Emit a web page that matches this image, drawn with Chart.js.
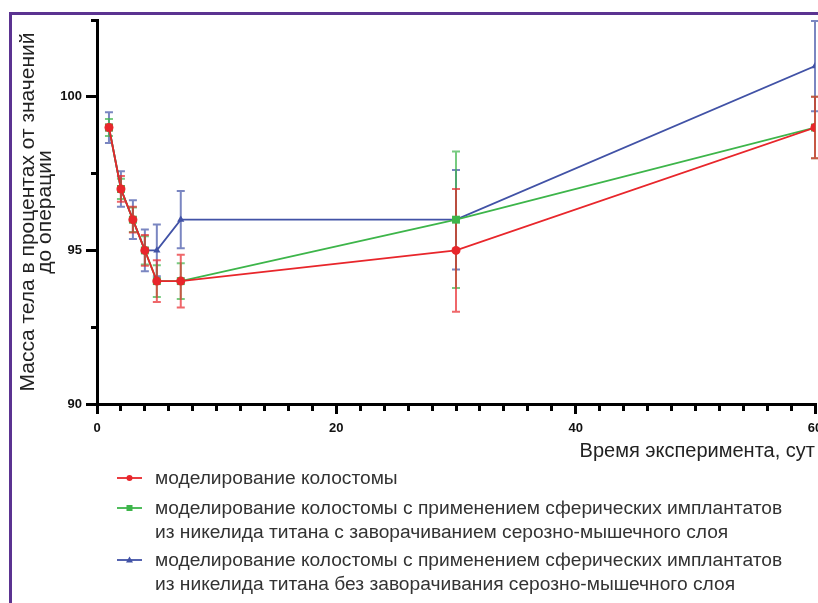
<!DOCTYPE html>
<html lang="ru">
<head>
<meta charset="utf-8">
<title>Масса тела в процентах от значений до операции</title>
<script src="https://cdn.jsdelivr.net/npm/chart.js@4.4.1/dist/chart.umd.min.js"></script>
<style>
    html, body { margin: 0; padding: 0; background: #fff; overflow: hidden; }
    #page { position: relative; width: 818px; height: 603px; overflow: hidden; font-family: "Liberation Sans", Arial, sans-serif; }
    #cadre { position: absolute; left: 9px; top: 12px; width: 900px; height: 700px; border-left: 3px solid #5b3391; border-top: 3px solid #5b3391; }
    #graphique { position: absolute; left: 0; top: 0; }
    .legende { position: absolute; left: 112px; font-size: 19.2px; line-height: 24px; color: #333; }
    .legende svg { position: absolute; left: 0; top: 2px; }
    .legende span { display: block; margin-left: 43px; white-space: nowrap; }
</style>
</head>
<body>
<div id="page">
    <div id="cadre"></div>
    <canvas id="graphique" width="840" height="603"></canvas>

    <div class="legende" style="top: 466px;">
        <svg width="34" height="20"><line x1="5" y1="10" x2="30" y2="10" stroke="#e8262b" stroke-width="1.8"/><circle cx="17.5" cy="10" r="3" fill="#e8262b"/></svg>
        <span>моделирование колостомы</span>
    </div>
    <div class="legende" style="top: 496px;">
        <svg width="34" height="20"><line x1="5" y1="10" x2="30" y2="10" stroke="#3db54a" stroke-width="1.8"/><rect x="14.5" y="7" width="6" height="6" fill="#3db54a"/></svg>
        <span>моделирование колостомы с применением сферических имплантатов</span>
        <span>из никелида титана с заворачиванием серозно-мышечного слоя</span>
    </div>
    <div class="legende" style="top: 548px;">
        <svg width="34" height="20"><line x1="5" y1="10" x2="30" y2="10" stroke="#4152a6" stroke-width="1.8"/><polygon points="17.5,6.5 21,12.5 14,12.5" fill="#4152a6"/></svg>
        <span>моделирование колостомы с применением сферических имплантатов</span>
        <span>из никелида титана без заворачивания серозно-мышечного слоя</span>
    </div>
</div>

<script>
// ==========================================================
// DONNEES
// ==========================================================
const jours = [1, 2, 3, 4, 5, 7, 30, 60];

// моделирование колостомы
const colostomie = [99, 97, 96, 95, 94, 94, 95, 99];
const colostomieErr = [0.1, 0.42, 0.42, 0.5, 0.68, 0.86, 2.0, 1.0];

// ... с заворачиванием серозно-мышечного слоя
const avecEnroulement = [99, 97, 96, 95, 94, 94, 96, 99];
const avecEnroulementErr = [0.28, 0.33, 0.4, 0.46, 0.52, 0.58, 2.22, 1.0];

// ... без заворачивания серозно-мышечного слоя
const sansEnroulement = [99, 97, 96, 95, 95, 96, 96, 101];
const sansEnroulementErr = [0.5, 0.58, 0.63, 0.68, 0.84, 0.93, 1.62, 1.47];

const graduationsY = [90, 95, 100];
const graduationsX = [0, 20, 40, 60];

// ==========================================================
// BARRES D'ERREUR (dessinées avec les échelles du graphique)
// ==========================================================
const pluginBarresErreur = {
    id: 'barresErreur',
    beforeDatasetsDraw(chart) {
        const ctx = chart.ctx;
        const echX = chart.scales.x;
        const echY = chart.scales.y;
        for (let d = chart.data.datasets.length - 1; d >= 0; d--) {
            const serie = chart.data.datasets[d];
            ctx.save();
            ctx.strokeStyle = serie.couleurErreur;
            ctx.lineWidth = 2;
            serie.data.forEach((p, i) => {
                const px = echX.getPixelForValue(p.x);
                const haut = echY.getPixelForValue(p.y + serie.erreurs[i]);
                const bas = echY.getPixelForValue(p.y - serie.erreurs[i]);
                ctx.beginPath();
                ctx.moveTo(px, haut); ctx.lineTo(px, bas);
                ctx.moveTo(px - 4, haut); ctx.lineTo(px + 4, haut);
                ctx.moveTo(px - 4, bas); ctx.lineTo(px + 4, bas);
                ctx.stroke();
            });
            ctx.restore();
        }
    }
};

function enPoints(valeurs) {
    return jours.map((j, i) => ({ x: j, y: valeurs[i] }));
}

function serie(valeurs, erreurs, couleur, couleurErreur, forme, rayon) {
    return {
        data: enPoints(valeurs),
        erreurs: erreurs,
        couleurErreur: couleurErreur,
        borderColor: couleur,
        backgroundColor: couleur,
        borderWidth: 1.8,
        pointStyle: forme,
        pointRadius: rayon,
        pointBorderWidth: 0,
        pointBackgroundColor: couleur,
        tension: 0
    };
}

// ==========================================================
// GRAPHIQUE
// ==========================================================
Chart.defaults.font.family = "'Liberation Sans', Arial, sans-serif";

new Chart(document.getElementById('graphique'), {
    type: 'line',
    data: {
        datasets: [
            serie(colostomie, colostomieErr, '#e8262b', 'rgba(232, 38, 43, 0.7)', 'circle', 4.5),
            serie(avecEnroulement, avecEnroulementErr, '#3db54a', 'rgba(61, 181, 74, 0.7)', 'rect', 5.6),
            serie(sansEnroulement, sansEnroulementErr, '#4152a6', 'rgba(65, 82, 166, 0.7)', 'triangle', 4.2)
        ]
    },
    options: {
        responsive: false,
        animation: false,
        layout: { autoPadding: false, padding: { left: 0, top: 20, right: 25, bottom: 139 } },
        plugins: { legend: { display: false }, tooltip: { enabled: false } },
        scales: {
            x: {
                type: 'linear',
                min: 0,
                max: 60,
                border: { display: true, color: '#000', width: 3 },
                grid: {
                    drawOnChartArea: false,
                    color: '#000',
                    lineWidth: 3,
                    tickWidth: 3,
                    tickLength: 10,
                    tickBorderDash: c => graduationsX.includes(c.tick.value) ? [] : [5, 30]
                },
                ticks: {
                    stepSize: 2,
                    autoSkip: false,
                    maxRotation: 0,
                    padding: 7,
                    color: '#111',
                    font: { size: 13, weight: 'bold' },
                    callback: v => graduationsX.includes(v) ? v : ''
                },
                title: {
                    display: true,
                    text: 'Время эксперимента, сут',
                    align: 'end',
                    color: '#222',
                    font: { size: 20 },
                    padding: { top: 0, bottom: 1 }
                },
                afterFit: s => { s.height = 60; s.paddingLeft = 0; s.paddingRight = 0; }
            },
            y: {
                min: 90,
                max: 102.5,
                border: { display: true, color: '#000', width: 3 },
                grid: {
                    drawOnChartArea: false,
                    color: '#000',
                    lineWidth: 3,
                    tickWidth: 3,
                    tickLength: 11,
                    tickBorderDash: c => graduationsY.includes(c.tick.value) ? [] : [0, 5, 20, 0]
                },
                ticks: {
                    stepSize: 2.5,
                    autoSkip: false,
                    padding: 4,
                    color: '#111',
                    font: { size: 13, weight: 'bold' },
                    callback: v => graduationsY.includes(v) ? v : ''
                },
                title: {
                    display: true,
                    text: ['Масса тела в процентах от значений', 'до операции'],
                    color: '#222',
                    font: { size: 21, lineHeight: 0.81 },
                    padding: { top: 20, bottom: 0 }
                },
                afterFit: s => { s.width = 97; s.paddingTop = 0; s.paddingBottom = 0; }
            }
        }
    },
    plugins: [pluginBarresErreur]
});
</script>
</body>
</html>
